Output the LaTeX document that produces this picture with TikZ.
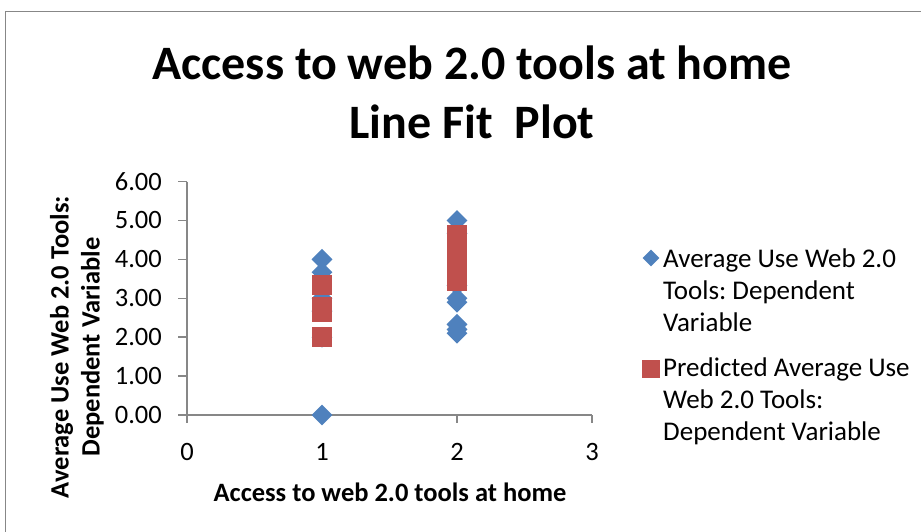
\documentclass[tikz,border=0pt]{standalone}
\usepackage{fontspec}
\setmainfont{Carlito}
\frenchspacing
\usetikzlibrary{shapes.geometric}
\definecolor{serblue}{HTML}{4F81BD}
\definecolor{serred}{HTML}{C0504D}
\definecolor{axisgray}{HTML}{878787}
\tikzset{
  bluept/.style={diamond,aspect=1,inner sep=0pt,minimum size=21pt,fill=serblue,draw=none},
  redpt/.style={rectangle,inner sep=0pt,minimum size=20.5pt,fill=serred,draw=none},
  axisline/.style={draw=axisgray,line width=1.6pt},
  ticklab/.style={font=\fontsize{26.5}{30}\selectfont,inner sep=0pt},
  legtext/.style={font=\fontsize{27}{32}\selectfont,align=left,anchor=west,inner sep=0pt},
  axtitle/.style={font=\fontsize{26.5}{31}\selectfont\bfseries,align=center},
}
\begin{document}
\begin{tikzpicture}[x=1pt,y=-1pt]
\useasboundingbox (0,0) rectangle (921,532);
% frame
\draw[draw=axisgray,line width=1.3pt] (5.5,11.5) rectangle (940,550);
% title
\node[font=\fontsize{48}{59}\selectfont\bfseries,align=center] (title) at (472,92)
  {Access to web 2.0 tools at home\\Line Fit\ \ Plot};
% plot area
\begin{scope}[shift={(187,415)},x=135pt,y=38.9pt]
  \coordinate (origin) at (0,0);
  \coordinate (ytop) at (0,6);
  \coordinate (xend) at (3,0);
  \draw[axisline] (ytop) -- (origin) -- (xend);
  \foreach \v in {0,...,6}{
    \draw[axisline] (0,\v) -- ++(-9pt,0);
    \node[ticklab,anchor=east] (yl\v) at ([xshift=-25pt]0,\v) {\v.00};
  }
  \foreach \v in {0,...,3}{
    \draw[axisline] (\v,0) -- ++(0,-8pt);
    \node[ticklab] (xl\v) at ([yshift=-37pt]\v,0) {\v};
  }
  % observed
  \foreach \y [count=\i] in {4.0,3.67,3.0,2.67,2.0,0}
    \node[bluept] (b1-\i) at (1,\y) {};
  \foreach \y [count=\i] in {5.0,4.67,3.33,3.0,2.9,2.33,2.2,2.1}
    \node[bluept] (b2-\i) at (2,\y) {};
  % predicted
  \foreach \y [count=\i] in {3.34,2.78,2.65,2.0}
    \node[redpt] (r1-\i) at (1,\y) {};
  \foreach \y [count=\i] in {4.63,4.5,4.35,4.2,4.05,3.9,3.75,3.6,3.44}
    \node[redpt] (r2-\i) at (2,\y) {};
\end{scope}
% axis titles
\node[axtitle] (xtitle) at (390,492) {Access to web 2.0 tools at home};
\node[axtitle,rotate=90] (ytitle) at (77,347)
  {Average Use Web 2.0 Tools:\\Dependent Variable};
% legend
\node[bluept,minimum size=17pt] (legb) at (651,258) {};
\node[legtext] (legbt) at (663,290) {Average Use Web 2.0\\Tools: Dependent\\Variable};
\node[redpt,minimum size=18pt] (legr) at (651,369) {};
\node[legtext] (legrt) at (663,401) {Predicted Average Use\\Web 2.0 Tools:\\Dependent Variable};
\end{tikzpicture}
\end{document}
